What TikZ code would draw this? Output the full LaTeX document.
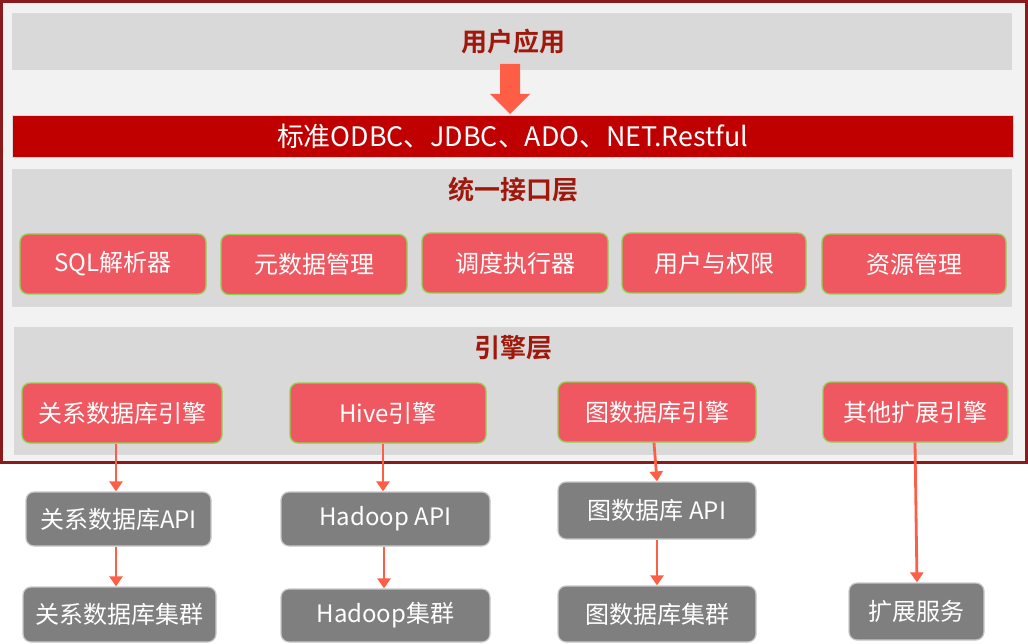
\documentclass[tikz,border=0pt]{standalone}
\usepackage{fontspec}
\setmainfont{Noto Sans CJK SC}
\newfontfamily\cjkbold{Noto Sans CJK SC Bold}
\usetikzlibrary{arrows.meta}
\definecolor{framered}{RGB}{140,26,26}
\definecolor{bandgray}{RGB}{217,217,217}
\definecolor{bggray}{RGB}{242,242,242}
\definecolor{barred}{RGB}{192,0,0}
\definecolor{coral}{RGB}{239,88,96}
\definecolor{leafgreen}{RGB}{146,208,80}
\definecolor{boxgray}{RGB}{127,127,127}
\definecolor{edgegray}{RGB}{200,200,200}
\definecolor{titlered}{RGB}{160,24,12}
\definecolor{arrowred}{RGB}{255,94,70}
\tikzset{
  band/.style={fill=bandgray, draw=none},
  ltitle/.style={text=titlered, font=\cjkbold\fontsize{26}{26}\selectfont, inner sep=0pt},
  redbox/.style={rounded corners=8pt, fill=coral, draw=leafgreen, line width=1.3pt, text=white,
    font=\fontsize{24}{24}\selectfont, inner sep=0pt},
  graybox/.style={rounded corners=8pt, fill=boxgray, draw=edgegray, line width=1.2pt, text=white,
    font=\fontsize{24}{24}\selectfont, inner sep=0pt},
  flow/.style={draw=arrowred, line width=2.8pt, -{Triangle[length=10pt,width=13pt]}},
}
\begin{document}
\begin{tikzpicture}[x=1pt,y=-1pt]
\useasboundingbox (0,0) rectangle (1028,644);
\fill[white] (0,0) rectangle (1028,644);
% outer frame
\draw[framered, fill=bggray, line width=3pt] (1.5,1.5) rectangle (1026.5,462.5);
% bands
\fill[band] (12,13) rectangle (1012,70);
\fill[band] (12,169) rectangle (1012,307);
\fill[band] (14,327) rectangle (1013,455);
% titles
\node[ltitle] (t1) at (513,42) {用户应用};
\node[ltitle] (t2) at (513,190) {统一接口层};
\node[ltitle] (t3) at (513,348) {引擎层};
% standard bar
\node[fill=barred, draw=bandgray, line width=0.8pt, minimum width=1001pt, minimum height=42pt, inner sep=0pt,
  text=white, font=\fontsize{26.8}{26.8}\selectfont] (std) at (512.5,136) {标准ODBC、JDBC、ADO、NET.Restful};
% fat arrow
\fill[arrowred] (500,64) -- (520,64) -- (520,94) -- (530,94) -- (510,114) -- (490,94) -- (500,94) -- cycle;
% interface boxes
\node[redbox, minimum width=186pt, minimum height=60pt] (i1) at (113,264) {SQL解析器};
\node[redbox, minimum width=186pt, minimum height=60pt] (i2) at (314,264.5) {元数据管理};
\node[redbox, minimum width=186pt, minimum height=60pt] (i3) at (515,263) {调度执行器};
\node[redbox, minimum width=184pt, minimum height=60pt] (i4) at (714,263) {用户与权限};
\node[redbox, minimum width=184pt, minimum height=60pt] (i5) at (914,264) {资源管理};
% engine boxes
\node[redbox, minimum width=200pt, minimum height=60pt] (e1) at (122,413) {关系数据库引擎};
\node[redbox, minimum width=196pt, minimum height=60pt] (e2) at (388,413) {Hive引擎};
\node[redbox, minimum width=198pt, minimum height=60pt] (e3) at (657,412) {图数据库引擎};
\node[redbox, minimum width=185pt, minimum height=60pt] (e4) at (915.5,412) {其他扩展引擎};
% API boxes
\node[graybox, minimum width=185pt, minimum height=54pt] (a1) at (118.5,519) {关系数据库API};
\node[graybox, minimum width=209pt, minimum height=54pt] (a2) at (385.5,519) {Hadoop API};
\node[graybox, minimum width=198pt, minimum height=57pt] (a3) at (657,510.5) {图数据库 API};
% cluster boxes
\node[graybox, minimum width=193pt, minimum height=55pt] (c1) at (119.5,614.5) {关系数据库集群};
\node[graybox, minimum width=209pt, minimum height=53pt] (c2) at (385.5,615.5) {Hadoop集群};
\node[graybox, minimum width=198pt, minimum height=56pt] (c3) at (657,614) {图数据库集群};
\node[graybox, minimum width=135pt, minimum height=57pt] (c4) at (916.5,611.5) {扩展服务};
% connectors
\draw[flow] ([xshift=-6pt]e1.south) -- ([xshift=-2.5pt]a1.north);
\draw[flow] ([xshift=-2.5pt]a1.south) -- ([xshift=-3.5pt]c1.north);
\draw[flow] ([xshift=-5pt]e2.south) -- ([xshift=-2.5pt]a2.north);
\draw[flow] ([xshift=-1.5pt]a2.south) -- ([xshift=-1.5pt]c2.north);
\draw[flow] ([xshift=-3pt]e3.south) -- (a3.north);
\draw[flow] (a3.south) -- (c3.north);
\draw[flow] ([xshift=-0.5pt]e4.south) -- ([xshift=0.5pt]c4.north);
\end{tikzpicture}
\end{document}
